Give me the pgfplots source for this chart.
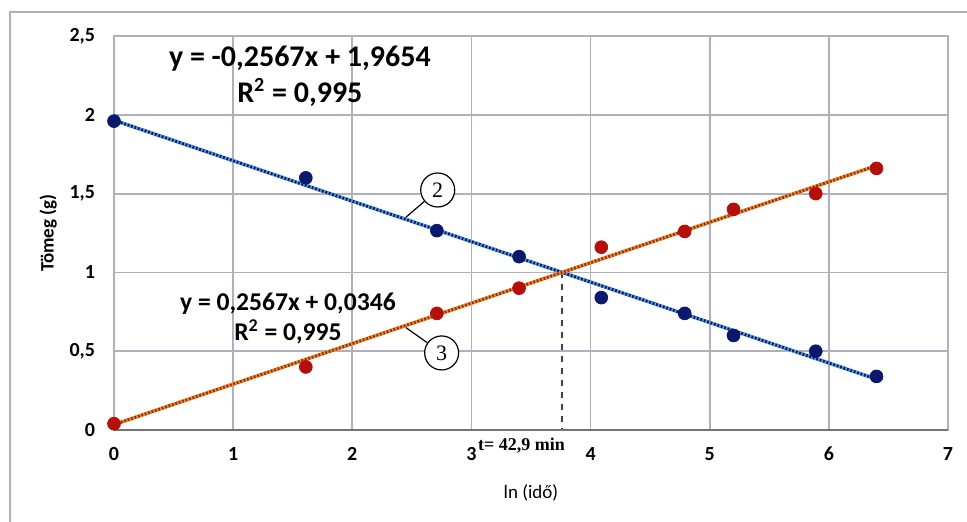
\documentclass[border=0pt]{standalone}
\usepackage{pgfplots}
\pgfplotsset{compat=1.18}
\usepackage{fontspec}
\setmainfont{Carlito}
\newfontfamily\serifb{Liberation Serif}
\definecolor{gridc}{RGB}{175,175,190}
\definecolor{navy}{RGB}{10,25,110}
\definecolor{dred}{RGB}{180,15,10}
\definecolor{lblue}{RGB}{90,160,215}
\definecolor{lorange}{RGB}{240,140,50}
\definecolor{dorange}{RGB}{150,50,10}
\begin{document}
\begin{tikzpicture}
\path[use as bounding box] (0,0) rectangle (483.5pt,260.5pt);
\draw[gridc, line width=1pt] (5pt,-5pt) -- (5pt,254.5pt) -- (490pt,254.5pt);
\begin{axis}[at={(57pt,45.5pt)}, anchor=south west, scale only axis,
  width=417pt, height=197pt,
  xmin=0, xmax=7, ymin=0, ymax=2.5,
  xtick={0,1,...,7}, ytick={0,0.5,1,1.5,2,2.5},
  grid=major, major grid style={gridc, line width=0.9pt},
  axis line style={gridc, line width=0.9pt},
  major tick length=0pt,
  /pgf/number format/use comma,
  /pgf/number format/assume math mode=true,
  tick label style={font=\bfseries\fontsize{10}{11}\selectfont},
  xticklabel style={yshift=-5pt},
  yticklabel style={xshift=-6pt},
  xlabel={ln (idő)}, ylabel={Tömeg (g)},
  xlabel style={at={(axis description cs:0.5,-0.16)}, anchor=center, font=\fontsize{9.5}{10}\selectfont},
  ylabel style={at={(axis description cs:-0.079,0.5)}, anchor=center, rotate=0, font=\bfseries\fontsize{9.5}{10}\selectfont},
  clip=false,
]
% dashed intersection line
\addplot[black!75, dashed, line width=0.8pt] coordinates {(3.761,1.0) (3.761,0)};
% measured points
\addplot[only marks, mark=*, mark size=3.2pt, navy, mark options={fill=navy}] coordinates {
(0,1.96) (1.61,1.60) (2.71,1.265) (3.40,1.10) (4.09,0.84) (4.79,0.74) (5.20,0.60) (5.89,0.50) (6.40,0.34)};
\addplot[only marks, mark=*, mark size=3.2pt, dred, mark options={fill=dred}] coordinates {
(0,0.04) (1.61,0.40) (2.71,0.74) (3.40,0.90) (4.09,1.16) (4.79,1.26) (5.20,1.40) (5.89,1.50) (6.40,1.66)};
% trendlines
\addplot[lblue, line width=1.8pt] coordinates {(0,1.9654) (6.4,0.3225)};
\addplot[navy, line width=1.4pt, dash pattern=on 0.9pt off 0.9pt] coordinates {(0,1.9654) (6.4,0.3225)};
\addplot[lorange, line width=1.8pt] coordinates {(0,0.0346) (6.4,1.6775)};
\addplot[dorange, line width=1.4pt, dash pattern=on 0.9pt off 0.9pt] coordinates {(0,0.0346) (6.4,1.6775)};
% bottom axis line
\draw[black!55, line width=1.3pt] (axis cs:0,0) -- (axis cs:7,0);
% equations
\node[align=center, font=\bfseries\fontsize{15}{18}\selectfont] at (axis cs:1.56,2.245) {y = -0,2567x + 1,9654\\R\textsuperscript{\fontsize{10}{10}\selectfont 2} = 0,995};
\node[align=center, font=\bfseries\fontsize{12.8}{15}\selectfont] at (axis cs:1.46,0.71) {y = 0,2567x + 0,0346\\R\textsuperscript{\fontsize{9}{9}\selectfont 2} = 0,995};
% circles
\node[draw, circle, minimum size=17pt, inner sep=0pt, fill=white, line width=0.6pt, font=\serifb\fontsize{11}{11}\selectfont] (c2) at (axis cs:2.717,1.523) {2};
\draw[line width=0.6pt] (axis cs:2.45,1.35) -- (c2);
\node[draw, circle, minimum size=17pt, inner sep=0pt, fill=white, line width=0.6pt, font=\serifb\fontsize{11}{11}\selectfont] (c3) at (axis cs:2.75,0.489) {3};
\draw[line width=0.6pt] (axis cs:2.45,0.65) -- (c3);
% time label
\node[font=\serifb\bfseries\fontsize{9}{10}\selectfont] at (axis cs:3.42,-0.10) {t= 42,9 min};
\end{axis}
\end{tikzpicture}
\end{document}
